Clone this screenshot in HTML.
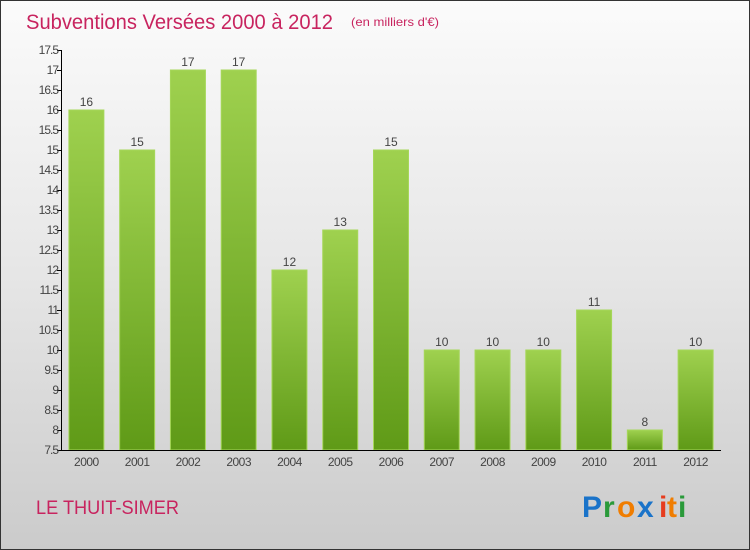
<!DOCTYPE html>
<html><head><meta charset="utf-8"><style>
body{margin:0;width:750px;height:550px;overflow:hidden;font-family:"Liberation Sans","DejaVu Sans",sans-serif}
#wrap{position:absolute;left:0;top:0;width:748px;height:548px;border:1px solid #333;background:linear-gradient(#fbfbfb,#e6e6e6 50%,#cbcbcb)}
</style></head><body>
<div id="wrap">
<svg width="750" height="550" style="position:absolute;left:-1px;top:-1px">
<defs><linearGradient id="bg" x1="0" y1="0" x2="0" y2="1"><stop offset="0" stop-color="#9fd14f"/><stop offset="1" stop-color="#5f9a17"/></linearGradient></defs>
<text x="26" y="29" font-size="21" fill="#c8245f" textLength="307" lengthAdjust="spacingAndGlyphs">Subventions Versées 2000 à 2012</text>
<text x="351" y="26" font-size="12" fill="#c8245f" textLength="88" lengthAdjust="spacingAndGlyphs">(en milliers d'€)</text>
<g id="yax"></g><g id="bars"></g>
<line x1="61.5" y1="50" x2="61.5" y2="451" stroke="#000"/>
<line x1="61" y1="450.5" x2="721" y2="450.5" stroke="#000"/>
<text x="36" y="514" font-size="19" fill="#c8245f" textLength="143" lengthAdjust="spacingAndGlyphs">LE THUIT-SIMER</text>
<g font-size="30" font-weight="bold">
<text x="582" y="517" fill="#1a73c9">P</text><text x="603" y="517" fill="#2a9a3a">r</text><text x="617" y="517" fill="#f07d00">o</text><text x="637" y="517" fill="#1a73c9">x</text><text x="659" y="517" fill="#e63c1e">i</text><text x="667" y="517" fill="#f07d00">t</text><text x="678" y="517" fill="#2a9a3a">i</text></g>
</svg></div>
<script>
const years=["2000","2001","2002","2003","2004","2005","2006","2007","2008","2009","2010","2011","2012"];
const values=[16,15,17,17,12,13,15,10,10,10,11,8,10];
const yTicks=[7.5,8,8.5,9,9.5,10,10.5,11,11.5,12,12.5,13,13.5,14,14.5,15,15.5,16,16.5,17,17.5];
const NS="http://www.w3.org/2000/svg";
const y=v=>450-(v-7.5)*40;
const band=660/years.length, x0=61;
function mk(t,a,p,txt){const e=document.createElementNS(NS,t);for(const k in a)e.setAttribute(k,a[k]);if(txt!==undefined)e.textContent=txt;p.appendChild(e);return e;}
const ya=document.getElementById('yax'),bg=document.getElementById('bars');
yTicks.forEach(t=>{
 const l=mk('line',{x1:57,x2:62,y1:y(t)+.5,y2:y(t)+.5,stroke:'#000'},ya);
 
 
 const s=mk('text',{x:58,y:y(t)+4,'font-size':12,fill:'#444','text-anchor':'end','letter-spacing':'-1'},ya,String(t));
 
 
});
years.forEach((yr,i)=>{
 const cx=x0+band*(i+.5),v=values[i];
 const r=mk('rect',{x:cx-17.5,y:y(v),width:35,height:450-y(v),fill:'url(#bg)',stroke:'#a6d75a','stroke-width':1},bg);
 
 
 const lb=mk('text',{x:cx,y:y(v)-4,'font-size':12,fill:'#444','text-anchor':'middle'},bg,String(v));
 
 
 const xl=mk('text',{x:cx,y:466,'font-size':12,fill:'#444','text-anchor':'middle','letter-spacing':'-0.5'},bg,yr);
 
 
});
</script>
</body></html>
